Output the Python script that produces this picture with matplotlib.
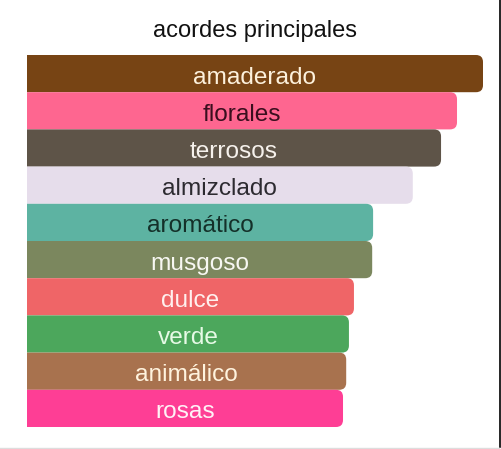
import matplotlib
matplotlib.use("Agg")
import matplotlib.pyplot as plt
from matplotlib.patches import FancyBboxPatch
from matplotlib.lines import Line2D

plt.rcParams['font.family'] = ['Liberation Sans', 'DejaVu Sans']

title = "acordes principales"
categories = ["amaderado", "florales", "terrosos", "almizclado", "aromático",
              "musgoso", "dulce", "verde", "animálico", "rosas"]
values = [100, 94.3, 90.8, 84.6, 75.9, 75.7, 71.7, 70.6, 70.0, 69.3]
bar_colors = ["#774414", "#FE6690", "#5E5448", "#E6DDEB", "#5DB3A2",
              "#7B875E", "#EF6567", "#4CA75C", "#A8724E", "#FE3E95"]
text_colors = ["#FDF1DC", "#3A0E1E", "#F6F1EC", "#2C2A30", "#143029",
               "#F7F7F2", "#FFF0EE", "#E6FAE6", "#FFF3DE", "#FFF2F6"]

W, H = 501, 449
fig = plt.figure(figsize=(W / 100, H / 100), dpi=100)
fig.patch.set_facecolor("white")

left_px, right_px = 27, 483
top_px, bot_px = 55, 427
ax = fig.add_axes([left_px / W, (H - bot_px) / H, (right_px - left_px) / W, (bot_px - top_px) / H])
ax.set_xlim(0, max(values))
n = len(categories)
ax.set_ylim(n - 0.5, -0.5)
ax.axis("off")

xpx = (right_px - left_px) / max(values)
ypx = (bot_px - top_px) / n
r_px = 7
rx = r_px / xpx
aspect = (r_px / ypx) / rx
base_off = 10.0 / ypx

for i, (cat, v, bc, tc) in enumerate(zip(categories, values, bar_colors, text_colors)):
    x0 = -3 * rx
    p = FancyBboxPatch((x0, i - 0.5), v - x0, 1.0,
                       boxstyle=f"round,pad=0,rounding_size={rx}",
                       mutation_aspect=aspect,
                       facecolor=bc, edgecolor="none", clip_on=True)
    ax.add_patch(p)
    p.set_clip_path(ax.patch)
    ax.text(v / 2, i + base_off, cat, ha="center", va="baseline", fontsize=17.6, color=tc)

fig.text((left_px + right_px) / 2 / W, 1 - 36.5 / H, title, ha="center", va="baseline",
         fontsize=17, color="#111111")

fig.add_artist(Line2D([500.3 / W, 500.3 / W], [2.5 / H, 1], transform=fig.transFigure,
                      color="black", lw=1.2))
fig.add_artist(Line2D([0, 499 / W], [1.5 / H, 1.5 / H], transform=fig.transFigure,
                      color="#DDDDDD", lw=1.0))

fig.savefig("out.png", dpi=100, facecolor="white")
